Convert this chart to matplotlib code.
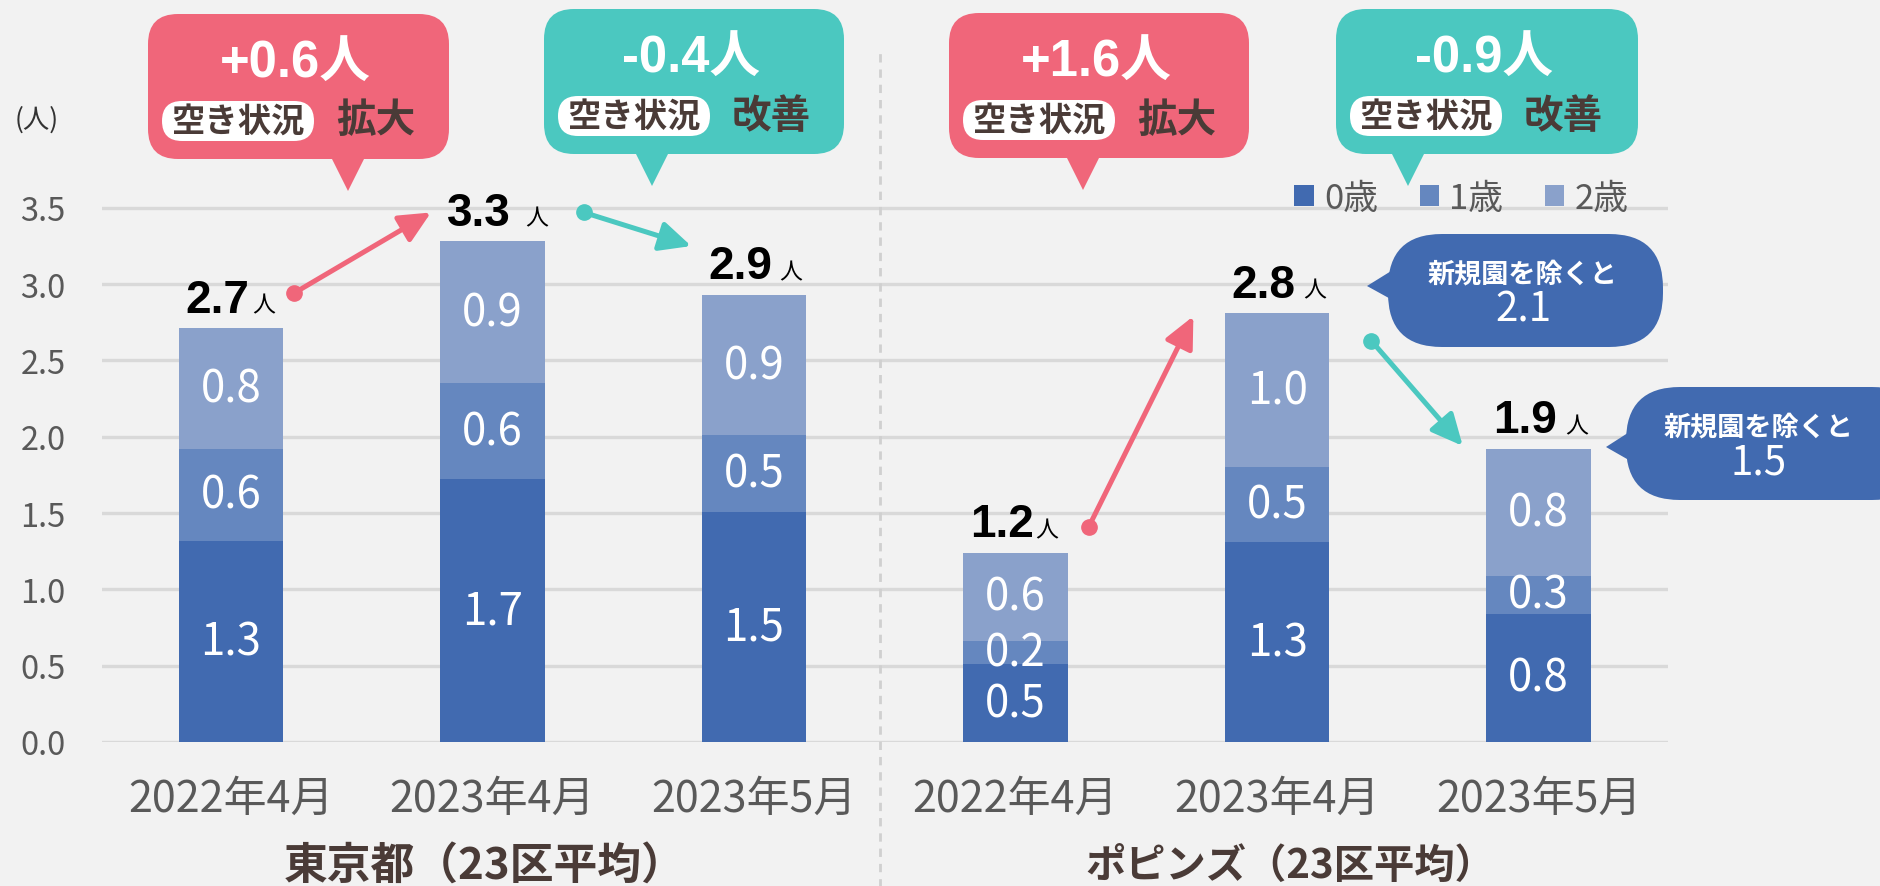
import matplotlib
matplotlib.use('Agg')
import matplotlib.pyplot as plt
from matplotlib.patches import FancyBboxPatch, Polygon
import numpy as np

# ---- data ----
months = ['2022年4月', '2023年4月', '2023年5月']
groups = ['東京都（23区平均）', 'ポピンズ（23区平均）']
series_names = ['0歳', '1歳', '2歳']
age0 = [1.32, 1.72, 1.51, 0.51, 1.31, 0.84]
age1 = [0.60, 0.63, 0.50, 0.15, 0.49, 0.25]
age2 = [0.79, 0.93, 0.92, 0.58, 1.01, 0.83]
age0_lbl = ['1.3', '1.7', '1.5', '0.5', '1.3', '0.8']
age1_lbl = ['0.6', '0.6', '0.5', '0.2', '0.5', '0.3']
age2_lbl = ['0.8', '0.9', '0.9', '0.6', '1.0', '0.8']
total_lbl = ['2.7', '3.3', '2.9', '1.2', '2.8', '1.9']
yticks = [0.0, 0.5, 1.0, 1.5, 2.0, 2.5, 3.0, 3.5]
change_big = ['+0.6人', '-0.4人', '+1.6人', '-0.9人']
change_word = ['拡大', '改善', '拡大', '改善']
excl_new_val = ['2.1', '1.5']

# ---- style ----
BG = '#F2F2F2'
C0, C1, C2 = '#416AB0', '#6587BF', '#8AA1CB'
PINK, TEAL = '#F0667A', '#4BC8C0'
BROWN = '#4A3B37'
GREY = '#595959'
NARROW = ['Liberation Sans Narrow', 'Noto Sans CJK JP']
CJK = ['Noto Sans CJK JP', 'DejaVu Sans']
BOLDNUM = ['Liberation Sans', 'Noto Sans CJK JP']
plt.rcParams['font.family'] = NARROW

fig = plt.figure(figsize=(18.81, 8.87), dpi=100, facecolor=BG)
ax = fig.add_axes([0.0542, 0.1624, 0.8326, 0.6193])
ax.set_facecolor(BG)

x = np.arange(len(age0))
bottom1 = np.array(age0)
bottom2 = bottom1 + np.array(age1)
totals = bottom2 + np.array(age2)

b0 = ax.bar(x, age0, width=0.4, color=C0, label=series_names[0])
b1 = ax.bar(x, age1, width=0.4, bottom=bottom1, color=C1, label=series_names[1])
b2 = ax.bar(x, age2, width=0.4, bottom=bottom2, color=C2, label=series_names[2])
for cont, lbl in [(b0, age0_lbl), (b1, age1_lbl), (b2, age2_lbl)]:
    ax.bar_label(cont, labels=lbl, label_type='center', color='white',
                 fontsize=31.5, family=NARROW)

ax.set_xlim(-0.493, 5.495)
ax.set_ylim(0, 3.6)
ax.set_yticks(yticks, [f'{v:.1f}' for v in yticks])
ax.set_xticks(x, months * 2)
ax.tick_params(axis='y', length=0, pad=26, labelsize=23.5, labelcolor=GREY)
ax.tick_params(axis='x', length=0, pad=25, labelsize=31, labelcolor=GREY,
               labelfontfamily=CJK)
ax.yaxis.grid(True, color='#D9D9D9', lw=2.4)
ax.set_axisbelow(True)
for s in ax.spines.values():
    s.set_visible(False)

# group titles + divider
ax.text(0.97, -0.81, groups[0], ha='center', va='center', fontsize=31.5,
        fontweight='bold', color=BROWN, family=CJK)
ax.text(4.05, -0.81, groups[1], ha='center', va='center', fontsize=29,
        fontweight='bold', color=BROWN, family=CJK)
ax.plot([2.48, 2.48], [-0.95, 4.54], color='#D0D0D0', lw=2,
        ls=(0, (3, 2.5)), clip_on=False)

# totals, with a small 人 set on the same baseline
gap_pt = [2, 11, 5, 1, 6, 6]
num_txt = []
for i in range(len(x)):
    t = ax.annotate(total_lbl[i], xy=(x[i], totals[i]), xytext=(-10, 12),
                    textcoords='offset points', ha='center', va='baseline',
                    fontsize=33, fontweight='bold', color='black', family=BOLDNUM)
    num_txt.append(t)
fig.canvas.draw()
rend = fig.canvas.get_renderer()
for i, t in enumerate(num_txt):
    bb = t.get_window_extent(rend)
    xd = ax.transData.transform((x[i], totals[i]))[0]
    dx = (bb.x1 - xd) * 72 / fig.dpi + gap_pt[i]
    ax.annotate('人', xy=(x[i], totals[i]), xytext=(dx, 12),
                textcoords='offset points', ha='left', va='baseline',
                fontsize=16.5, color='black', family=CJK)

# arrows between bars: (from, dx, dy, to, dx, dy, colour)
arrows = [
    (0, 0.24, 0.23, 1, -0.235, 0.19, PINK),
    (1, 0.35, 0.19, 2, -0.24, 0.32, TEAL),
    (3, 0.28, 0.17, 4, -0.32, -0.02, PINK),
    (4, 0.36, -0.18, 5, -0.29, 0.02, TEAL),
]
for i0, dx0, dy0, i1, dx1, dy1, col in arrows:
    p0 = (x[i0] + dx0, totals[i0] + dy0)
    p1 = (x[i1] + dx1, totals[i1] + dy1)
    ax.annotate('', xy=p1, xytext=p0, annotation_clip=False,
                arrowprops=dict(arrowstyle='-|>,head_length=0.95,head_width=0.45',
                                color=col, lw=3.6, mutation_scale=20,
                                shrinkA=0, shrinkB=0))
    ax.plot(*p0, 'o', color=col, ms=11, clip_on=False)

leg = ax.legend(loc='center', bbox_to_anchor=(0.868, 0.99), ncol=3, frameon=False,
                fontsize=25, handlelength=0.55, handleheight=0.55,
                handletextpad=0.3, columnspacing=1.2, borderpad=0)
for t in leg.get_texts():
    t.set_color(GREY)

# overlay in pixel units for callouts
ov = fig.add_axes([0, 0, 1, 1])
ov.set_xlim(0, 1881)
ov.set_ylim(887, 0)
ov.axis('off')

ov.text(37, 120, '(人)', ha='center', va='center', fontsize=19, color='#333333',
        family=NARROW)

# change callouts: box x0, y0, w, h, pointer tip x
callouts = [
    (148, 15, 301, 145, 348, PINK),
    (544, 10, 300, 145, 652, TEAL),
    (949, 14, 300, 145, 1083, PINK),
    (1336, 10, 302, 145, 1408, TEAL),
]
for k, (x0, y0, w, h, tip, col) in enumerate(callouts):
    ov.add_patch(FancyBboxPatch((x0, y0), w, h, boxstyle='round,pad=0,rounding_size=30',
                                fc=col, ec='none'))
    ov.add_patch(Polygon([(tip - 17, y0 + h - 2), (tip + 17, y0 + h - 2), (tip, y0 + h + 32)],
                         closed=True, fc=col, ec='none'))
    ov.text(x0 + w / 2 - 3, y0 + 48, change_big[k], ha='center', va='center',
            fontsize=36.5, fontweight='bold', color='white', family=BOLDNUM)
    ov.add_patch(FancyBboxPatch((x0 + 14, y0 + 87), 152, 40,
                                boxstyle='round,pad=0,rounding_size=20',
                                fc='white', ec='none'))
    ov.text(x0 + 90, y0 + 107, '空き状況', ha='center', va='center', fontsize=24,
            fontweight='bold', color=BROWN, family=CJK)
    ov.text(x0 + 188, y0 + 106, change_word[k], ha='left', va='center', fontsize=28.5,
            fontweight='bold', color=BROWN, family=CJK)

# "excluding new nurseries" bubbles
bubbles = [
    (1388, 235, 275, 113, (1367, 287)),
    (1626, 388, 300, 113, (1606, 448)),
]
for k, (x0, y0, w, h, tipxy) in enumerate(bubbles):
    ov.add_patch(FancyBboxPatch((x0, y0), w, h, boxstyle='round,pad=0,rounding_size=54',
                                fc=C0, ec='none', clip_on=False))
    ov.add_patch(Polygon([(x0 + 8, tipxy[1] - 18), (x0 + 8, tipxy[1] + 16), tipxy],
                         closed=True, fc=C0, ec='none'))
    cx = x0 + 135 if k == 0 else x0 + 133
    ov.text(cx, y0 + 39, '新規園を除くと', ha='center', va='center', fontsize=19.5,
            fontweight='bold', color='white', family=CJK)
    ov.text(cx, y0 + 75, excl_new_val[k], ha='center', va='center', fontsize=29,
            color='white', family=NARROW)

fig.savefig('out.png', dpi=100, facecolor=BG)
